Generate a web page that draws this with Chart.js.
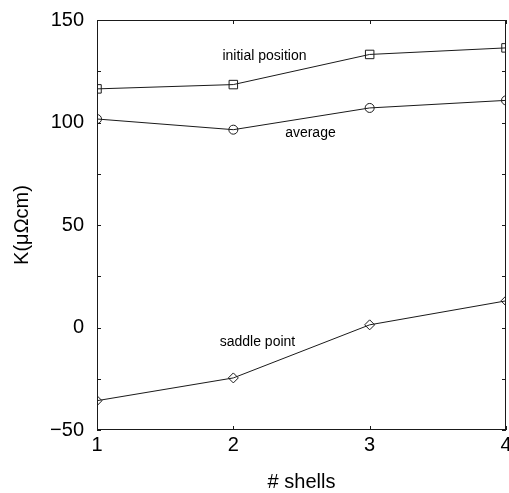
<!DOCTYPE html>
<html>
<head>
<meta charset="utf-8">
<script src="https://cdn.jsdelivr.net/npm/chart.js@4/dist/chart.umd.min.js"></script>
<style>
  html, body { margin: 0; padding: 0; background: #fff; overflow: hidden; }
  /* a little wider than the window: the last x label runs off the right edge */
  #wrap { width: 513px; height: 493px; position: relative; }
</style>
</head>
<body>
<div id="wrap"><canvas id="chart"></canvas></div>
<script>
const shells = [1, 2, 3, 4];
const initialPosition = [116.4, 118.5, 133.2, 136.4];
const average = [101.7, 96.5, 107.1, 110.8];
const saddlePoint = [-35.7, -24.6, 1.3, 13.0];
const yLabelled = [-50, 0, 50, 100, 150];

// curve captions, placed in data coordinates
const captions = [
    { text: 'initial position', x: 1.92, y: 132.2 },
    { text: 'average', x: 2.38, y: 95.0 },
    { text: 'saddle point', x: 1.90, y: -7.0 }
];

const ink = '#1a1a1a';
const FONT = '"Liberation Sans", Arial, Helvetica, sans-serif';

function pts(ys) {
    return shells.map((x, i) => ({ x: x, y: ys[i] }));
}

// frame round the plot, inward tick marks on all four sides, curve captions
const framePlugin = {
    id: 'frame',
    afterDraw(chart) {
        const { ctx, chartArea: a, scales } = chart;
        ctx.save();
        ctx.strokeStyle = ink;
        ctx.lineWidth = 1;
        ctx.strokeRect(a.left + 0.5, a.top + 0.5, a.right - a.left - 1, a.bottom - a.top - 1);

        ctx.beginPath();
        scales.y.ticks.forEach(t => {
            const py = Math.round(scales.y.getPixelForValue(t.value)) + 0.5;
            ctx.moveTo(a.left, py); ctx.lineTo(a.left + 4, py);
            ctx.moveTo(a.right, py); ctx.lineTo(a.right - 4, py);
        });
        scales.x.ticks.forEach(t => {
            const px = Math.round(scales.x.getPixelForValue(t.value)) + 0.5;
            ctx.moveTo(px, a.bottom); ctx.lineTo(px, a.bottom - 4);
            ctx.moveTo(px, a.top); ctx.lineTo(px, a.top + 4);
        });
        ctx.stroke();

        ctx.fillStyle = '#000';
        ctx.font = '14px ' + FONT;
        ctx.textBaseline = 'middle';
        ctx.textAlign = 'left';
        captions.forEach(c => {
            ctx.fillText(c.text, scales.x.getPixelForValue(c.x), scales.y.getPixelForValue(c.y));
        });
        ctx.restore();
    }
};

const lineStyle = {
    borderColor: ink,
    borderWidth: 1,
    backgroundColor: 'rgba(0,0,0,0)',
    pointBorderColor: ink,
    pointBackgroundColor: 'rgba(0,0,0,0)',
    pointBorderWidth: 1,
    tension: 0,
    fill: false
};

new Chart(document.getElementById('chart'), {
    type: 'line',
    data: {
        datasets: [
            { label: 'initial position', data: pts(initialPosition), pointStyle: 'rect', pointRadius: 6, ...lineStyle },
            { label: 'average', data: pts(average), pointStyle: 'circle', pointRadius: 4.5, ...lineStyle },
            { label: 'saddle point', data: pts(saddlePoint), pointStyle: 'rectRot', pointRadius: 5, ...lineStyle }
        ]
    },
    options: {
        responsive: true,
        maintainAspectRatio: false,
        animation: false,
        layout: { padding: { top: 20, right: 0, left: 0, bottom: 0 } },
        plugins: {
            legend: { display: false },
            tooltip: { enabled: false }
        },
        scales: {
            x: {
                type: 'linear',
                min: 1,
                max: 4,
                grid: { display: false, drawTicks: false },
                border: { display: false },
                ticks: {
                    stepSize: 1,
                    color: '#000',
                    padding: 3,
                    font: { family: FONT, size: 20 },
                    maxRotation: 0,
                    autoSkip: false
                },
                title: {
                    display: true,
                    text: '# shells',
                    color: '#000',
                    font: { family: FONT, size: 20, lineHeight: 1 },
                    padding: { top: 0, bottom: 1 }
                },
                afterFit(scale) {
                    scale.height = 63;
                    scale.paddingLeft = 0;
                    scale.paddingRight = 0;
                }
            },
            y: {
                type: 'linear',
                min: -50,
                max: 150,
                grid: { display: false, drawTicks: false },
                border: { display: false },
                ticks: {
                    stepSize: 25,
                    color: '#000',
                    padding: 13,
                    font: { family: FONT, size: 20 },
                    autoSkip: false,
                    callback: v => yLabelled.includes(v) ? String(v).replace('-', '\u2212') : ''
                },
                title: {
                    display: true,
                    text: 'K(\u03bc\u03a9cm)',
                    color: '#000',
                    font: { family: FONT, size: 20, lineHeight: 1.2 },
                    padding: { top: 10, bottom: 4 }
                },
                afterFit(scale) {
                    scale.width = 97;
                    scale.paddingTop = 0;
                    scale.paddingBottom = 0;
                }
            }
        }
    },
    plugins: [framePlugin]
});
</script>
</body>
</html>
